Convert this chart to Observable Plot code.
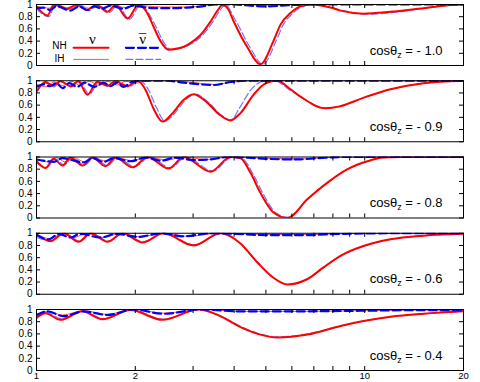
<!DOCTYPE html>
<html><head><meta charset="utf-8">
<script src="https://cdn.jsdelivr.net/npm/d3@7"></script>
<script src="https://cdn.jsdelivr.net/npm/@observablehq/plot@0.6"></script>
<style>html,body{margin:0;padding:0;background:#fff}</style>
</head><body><div id="chart"></div>
<script>
// panels (cos theta_z values) top to bottom
const panels = ["- 1.0", "- 0.9", "- 0.8", "- 0.6", "- 0.4"];
// tick values
const xLabelTicks = [1, 2, 5, 10, 20];
const xMinorTicks = [1, 2, 3, 4, 5, 6, 7, 8, 9, 10, 20];
const yTicks = [0, 0.2, 0.4, 0.6, 0.8, 1];

// [E (GeV), probability]
// cos = -1.0
const nhNu_m10 = [[1,0.97],[1.08,0.82],[1.127,0.99],[1.18,0.97],[1.234,0.93],[1.324,0.99],[1.42,0.91],[1.524,0.99],[1.646,0.88],[1.741,0.99],[1.894,0.77],[2.045,0.99],[2.18,0.85],[2.272,0.64],[2.387,0.40],[2.525,0.26],[2.75,0.29],[2.885,0.34],[3.16,0.50],[3.39,0.72],[3.56,0.90],[3.69,0.99],[3.83,0.93],[3.983,0.73],[4.4,0.29],[4.814,0.02],[5.27,0.40],[5.54,0.67],[5.94,0.86],[6.37,0.97],[6.84,1.0],[7.87,0.95],[8.44,0.90],[9.92,0.85],[11.98,0.88],[15.1,0.94],[18.3,0.99],[20,1.0]];
const ihNubar_m10 = [[1,0.93],[1.09,0.80],[1.14,0.99],[1.25,0.92],[1.34,0.99],[1.44,0.90],[1.545,0.99],[1.67,0.87],[1.765,0.99],[1.92,0.76],[2.075,0.99],[2.31,0.64],[2.43,0.40],[2.57,0.26],[2.93,0.34],[3.21,0.50],[3.45,0.72],[3.62,0.90],[3.76,0.99],[4.05,0.73],[4.48,0.29],[4.90,0.02],[5.37,0.40],[5.65,0.67],[6.05,0.86],[6.5,0.97],[6.98,1.0],[8.6,0.90],[10.15,0.84],[12.2,0.87],[15.4,0.94],[18.5,0.99],[20,1.0]];
const nhNubar_m10 = [[1,0.94],[1.05,0.95],[1.1,0.91],[1.15,0.97],[1.27,0.90],[1.35,0.97],[1.43,0.91],[1.5,0.97],[1.58,0.93],[1.68,0.98],[1.84,0.93],[1.97,0.98],[2.1,0.96],[2.3,0.94],[2.6,0.94],[2.9,0.95],[3.2,0.97],[3.5,1.0],[4.0,1.0],[4.5,0.98],[5.0,0.97],[5.6,0.98],[6.5,1.0],[20,1.0]];
const ihNu_m10 = [[1,0.97],[1.1,0.94],[1.16,0.99],[1.27,0.93],[1.36,0.99],[1.44,0.94],[1.52,0.99],[1.6,0.95],[1.7,0.99],[1.86,0.95],[2.0,0.99],[2.4,0.96],[2.9,0.96],[3.4,0.99],[4.2,1.0],[5.0,0.98],[6.5,1.0],[20,1.0]];
// cos = -0.9
const nhNu_m09 = [[1,0.82],[1.065,0.98],[1.12,0.92],[1.183,0.99],[1.27,0.91],[1.34,0.99],[1.43,0.77],[1.53,0.98],[1.646,0.92],[1.74,0.99],[1.89,0.91],[2.03,1.0],[2.15,0.85],[2.27,0.55],[2.421,0.33],[2.6,0.47],[2.8,0.68],[3.009,0.78],[3.3,0.65],[3.6,0.45],[3.9,0.35],[4.184,0.47],[4.6,0.78],[5.0,0.96],[5.42,1.0],[5.94,0.86],[6.37,0.74],[7.6,0.55],[8.4,0.58],[9.9,0.72],[11.98,0.86],[15.1,0.96],[20,1.0]];
const ihNubar_m09 = [[1,0.85],[1.07,0.96],[1.13,0.90],[1.19,0.99],[1.28,0.90],[1.35,0.99],[1.45,0.78],[1.55,0.98],[1.66,0.91],[1.76,0.99],[1.91,0.90],[2.06,1.0],[2.2,0.84],[2.32,0.56],[2.46,0.34],[2.65,0.48],[2.85,0.69],[3.05,0.78],[3.35,0.64],[3.65,0.44],[3.92,0.36],[4.15,0.55],[4.5,0.85],[4.9,0.99],[5.3,1.0],[5.9,0.85],[6.4,0.73],[7.6,0.55],[8.4,0.58],[9.9,0.72],[12,0.86],[15.1,0.96],[20,1.0]];
const nhNubar_m09 = [[1,0.90],[1.05,0.94],[1.1,0.91],[1.15,0.96],[1.2,0.88],[1.26,0.96],[1.33,0.90],[1.4,0.97],[1.5,0.90],[1.6,0.97],[1.68,0.91],[1.76,0.97],[1.84,0.90],[1.95,0.98],[2.1,1.0],[2.5,1.0],[2.8,0.97],[3.46,0.93],[3.9,0.98],[4.3,1.0],[20,1.0]];
const ihNu_m09 = [[1,0.95],[1.07,0.90],[1.13,0.98],[1.2,0.92],[1.28,0.99],[1.36,0.92],[1.45,0.99],[1.55,0.92],[1.65,0.99],[1.76,0.93],[1.87,0.99],[2.0,0.96],[2.2,1.0],[2.6,1.0],[3.0,0.97],[3.5,0.94],[4.0,0.98],[4.5,1.0],[20,1.0]];
// cos = -0.8
const nhNu_m08 = [[1,0.93],[1.065,0.82],[1.127,0.97],[1.2,0.86],[1.269,0.99],[1.381,0.86],[1.48,0.99],[1.623,0.85],[1.741,0.99],[1.961,0.83],[2.179,1.0],[2.525,0.81],[2.805,1.0],[3.39,0.76],[3.9,1.0],[4.184,0.98],[4.488,0.74],[4.814,0.41],[5.274,0.09],[5.818,0.0],[6.695,0.31],[7.704,0.58],[8.865,0.80],[10.2,0.93],[11.41,0.99],[13,1.0],[20,1.0]];
const ihNubar_m08 = [[1,0.90],[1.075,0.83],[1.14,0.97],[1.215,0.87],[1.285,0.99],[1.4,0.87],[1.5,0.99],[1.645,0.86],[1.765,0.99],[1.99,0.84],[2.21,1.0],[2.56,0.82],[2.85,1.0],[3.44,0.77],[3.95,1.0],[4.25,0.97],[4.56,0.73],[4.9,0.40],[5.35,0.09],[5.85,0.01],[6.7,0.31],[7.7,0.58],[8.87,0.80],[10.2,0.93],[11.4,0.99],[13,1.0],[20,1.0]];
const nhNubar_m08 = [[1,0.96],[1.05,0.94],[1.127,0.92],[1.2,0.98],[1.3,0.94],[1.39,0.91],[1.48,0.98],[1.6,0.92],[1.72,0.98],[1.934,0.93],[2.15,0.99],[2.4,0.94],[2.65,0.99],[3.0,0.95],[3.4,0.96],[3.8,1.0],[4.4,0.99],[5.0,0.97],[6.2,0.96],[7.2,0.98],[8.5,1.0],[20,1.0]];
const ihNu_m08 = [[1,0.97],[1.08,0.92],[1.15,0.99],[1.22,0.92],[1.3,0.99],[1.4,0.92],[1.5,0.99],[1.63,0.93],[1.75,0.99],[1.96,0.94],[2.18,1.0],[2.5,0.95],[2.8,1.0],[3.3,0.96],[3.9,1.0],[5.0,0.98],[6.5,0.97],[8.5,1.0],[20,1.0]];
// cos = -0.6
const nhNu_m06 = [[1,0.98],[1.103,0.87],[1.209,1.0],[1.343,0.86],[1.461,1.0],[1.646,0.86],[1.828,1.0],[2.104,0.85],[2.438,1.0],[3.009,0.80],[3.636,1.0],[3.9,0.95],[4.184,0.83],[4.714,0.52],[5.274,0.27],[5.818,0.16],[6.695,0.25],[7.489,0.44],[8.44,0.63],[9.916,0.79],[11.98,0.90],[15.11,0.96],[20,0.99]];
const ihNubar_m06 = [[1,0.93],[1.11,0.88],[1.22,1.0],[1.355,0.87],[1.475,1.0],[1.66,0.87],[1.84,1.0],[2.12,0.86],[2.45,1.0],[3.03,0.81],[3.66,1.0],[3.92,0.95],[4.2,0.82],[4.7,0.52],[5.26,0.27],[5.82,0.16],[6.7,0.25],[7.5,0.44],[8.44,0.63],[9.92,0.79],[12,0.90],[15.1,0.96],[20,0.99]];
const nhNubar_m06 = [[1,0.97],[1.088,0.90],[1.17,0.99],[1.269,0.93],[1.36,0.99],[1.567,0.93],[1.75,0.99],[2.031,0.94],[2.4,1.0],[2.805,0.95],[3.4,1.0],[4.0,0.99],[5.0,0.97],[6.5,0.97],[8.4,0.99],[12,1.0],[20,1.0]];
const ihNu_m06 = [[1,0.99],[1.1,0.91],[1.2,1.0],[1.3,0.93],[1.42,1.0],[1.6,0.93],[1.8,1.0],[2.08,0.94],[2.42,1.0],[2.9,0.95],[3.6,1.0],[5,0.98],[7,0.98],[10,1.0],[20,1.0]];
// cos = -0.4
const nhNu_m04 = [[1,0.86],[1.065,0.94],[1.183,0.83],[1.381,0.97],[1.589,0.84],[1.934,0.99],[2.421,0.83],[3.116,1.0],[3.6,0.90],[4.184,0.71],[4.714,0.60],[5.424,0.54],[6.695,0.59],[8.44,0.73],[9.916,0.81],[11.98,0.88],[15.11,0.93],[20,0.97]];
const ihNubar_m04 = [[1,0.88],[1.07,0.95],[1.19,0.85],[1.39,0.97],[1.6,0.85],[1.95,0.99],[2.44,0.84],[3.14,1.0],[3.62,0.90],[4.2,0.72],[4.73,0.61],[5.42,0.55],[6.7,0.60],[8.44,0.73],[9.92,0.81],[12,0.88],[15.1,0.93],[20,0.97]];
const nhNubar_m04 = [[1,0.91],[1.08,0.97],[1.209,0.89],[1.391,0.97],[1.646,0.91],[1.975,1.0],[2.438,0.93],[3.16,1.0],[4.184,0.97],[6,0.97],[10,0.98],[15,0.99],[20,0.99]];
const ihNu_m04 = [[1,0.90],[1.08,0.97],[1.2,0.91],[1.39,0.98],[1.64,0.92],[1.97,1.0],[2.44,0.94],[3.15,1.0],[4.2,0.97],[6,0.97],[10,0.98],[15,0.99],[20,0.99]];

// legend (drawn in the top panel)
const legendNuX = [1.297, 1.657];
const legendNubarX = [1.873, 2.387];
const legendRowY = [0.29, 0.10];          // NH row, IH row
const legendLabels = [{t: "NH", x: 1.175, y: 0.315}, {t: "IH", x: 1.175, y: 0.115}];
const legendHeads = [{t: "ν", x: 1.481, y: 0.43}, {t: "ν", x: 2.104, y: 0.43}, {t: "¯", x: 2.104, y: 0.43}];

const seriesData = {
  nhNu: [nhNu_m10, nhNu_m09, nhNu_m08, nhNu_m06, nhNu_m04],
  ihNu: [ihNu_m10, ihNu_m09, ihNu_m08, ihNu_m06, ihNu_m04],
  nhNubar: [nhNubar_m10, nhNubar_m09, nhNubar_m08, nhNubar_m06, nhNubar_m04],
  ihNubar: [ihNubar_m10, ihNubar_m09, ihNubar_m08, ihNubar_m06, ihNubar_m04]
};
const rows = {};
for (const key in seriesData) {
  rows[key] = [];
  seriesData[key].forEach((pts, i) => pts.forEach(([E, P]) => rows[key].push({E, P, panel: panels[i]})));
}
const legRows = (xs, y) => xs.map(x => ({E: x, P: y, panel: panels[0]}));

const styles = {
  nhNu: {stroke: "#ff0000", strokeWidth: 2},
  ihNu: {stroke: "#ff2a2a", strokeWidth: 0.8},
  nhNubar: {stroke: "#0000ff", strokeWidth: 2.2, strokeDasharray: "8,4"},
  ihNubar: {stroke: "#7474ff", strokeWidth: 1.2, strokeDasharray: "7,3"}
};

const W = 480, H = 382, mL = 36, mR = 17, mT = 4, mB = 12, pad = 0.2;
const plotW = W - mL - mR;
const bandH = (H - mT - mB) / (panels.length - pad) * (1 - pad);
const tk = 4;

const lineMark = key => Plot.line(rows[key], {x: "E", y: "P", fy: "panel", curve: "monotone-x", clip: true, ...styles[key]});
const legMark = (xs, y, key) => Plot.line(legRows(xs, y), {x: "E", y: "P", fy: "panel", ...styles[key]});

const chart = Plot.plot({
  width: W, height: H,
  marginLeft: mL, marginRight: mR, marginTop: mT, marginBottom: mB,
  style: {fontFamily: "'Liberation Sans', Arial, sans-serif", fontSize: "10px", background: "#fff"},
  x: {type: "log", domain: [1, 20], label: null},
  y: {domain: [0, 1], label: null},
  fy: {domain: panels, axis: null, paddingInner: pad, paddingOuter: 0, round: false, label: null},
  marks: [
    lineMark("ihNubar"),
    lineMark("ihNu"),
    lineMark("nhNu"),
    lineMark("nhNubar"),
    // legend
    legMark(legendNuX, legendRowY[0], "nhNu"),
    legMark(legendNuX, legendRowY[1], "ihNu"),
    legMark(legendNubarX, legendRowY[0], "nhNubar"),
    legMark(legendNubarX, legendRowY[1], "ihNubar"),
    Plot.text(legendLabels, {x: "x", y: "y", fy: () => panels[0], text: "t", fontSize: 10, fill: "#000", fontFamily: "'Liberation Sans Narrow', 'Liberation Sans', sans-serif"}),
    Plot.text(legendHeads, {x: "x", y: "y", fy: () => panels[0], text: "t", fontSize: 15, fill: "#000", fontFamily: "'Liberation Serif', 'DejaVu Serif', serif"}),
    // frame & ticks
    Plot.frame({stroke: "#000", strokeWidth: 1}),
    Plot.tickX(xMinorTicks, {x: d => d, insetTop: bandH - tk, stroke: "#000"}),
    Plot.tickX(xMinorTicks, {x: d => d, insetBottom: bandH - tk, stroke: "#000"}),
    Plot.tickY(yTicks, {y: d => d, insetRight: plotW - tk, stroke: "#000"}),
    Plot.tickY(yTicks, {y: d => d, insetLeft: plotW - tk, stroke: "#000"}),
    Plot.axisY(yTicks, {anchor: "left", tickSize: 0, tickPadding: 4, tickFormat: d => String(d), label: null, fontSize: 10}),
    Plot.axisX(xLabelTicks, {anchor: "bottom", tickSize: 0, tickPadding: 2, tickFormat: d => String(d), label: null, fontSize: 9.5}),
    Plot.text(panels, {fy: d => d, text: d => "cosθz = " + d, frameAnchor: "bottom-right", dx: -21, dy: -11, textAnchor: "end", fontSize: 13, fill: "#000"})
  ]
});
document.getElementById("chart").appendChild(chart);

// subscript z in the cosθz labels
const svgNS = "http://www.w3.org/2000/svg";
chart.querySelectorAll("text").forEach(t => {
  const s = t.textContent;
  if (s.startsWith("cosθz = ")) {
    const rest = s.slice("cosθz".length);
    t.textContent = "cosθ";
    const sub = document.createElementNS(svgNS, "tspan");
    sub.setAttribute("font-size", "9");
    sub.setAttribute("dy", "3");
    sub.textContent = "z";
    const tail = document.createElementNS(svgNS, "tspan");
    tail.setAttribute("dy", "-3");
    tail.textContent = rest;
    t.appendChild(sub);
    t.appendChild(tail);
  }
});
</script>
</body></html>
